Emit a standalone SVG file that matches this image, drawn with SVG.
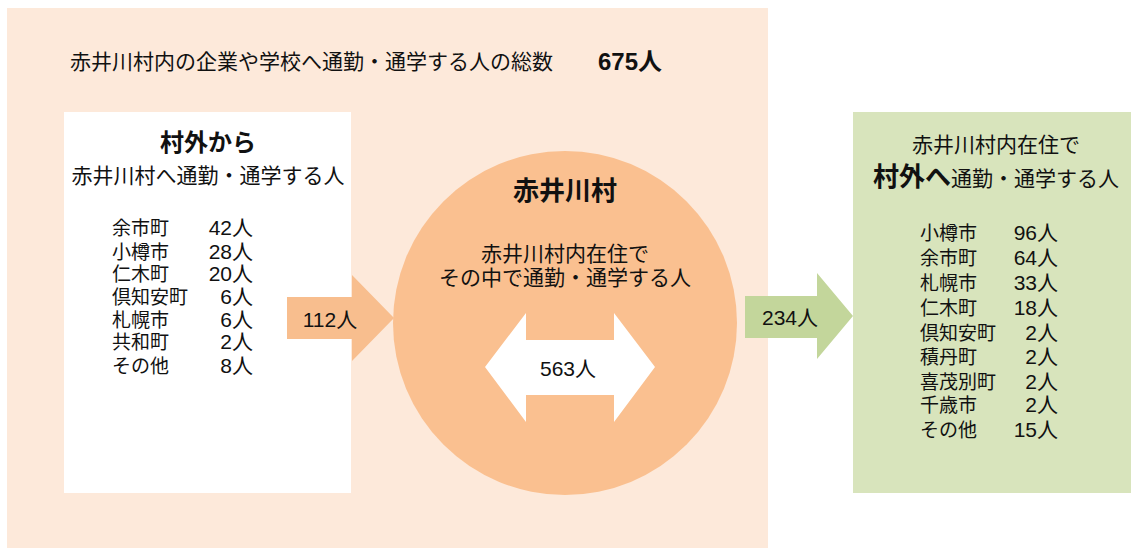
<svg xmlns="http://www.w3.org/2000/svg" width="1131" height="549" viewBox="0 0 1131 549">
<style>
text{font-family:"Liberation Sans","Noto Sans CJK JP",sans-serif;fill:#111}
.t21{font-size:21px}
.l{font-size:19px}
.r{text-anchor:end;font-size:21px}
.c{text-anchor:middle}
.b{font-weight:bold}
</style>
<rect width="1131" height="549" fill="#fff"/>
<g id="area">
<rect x="7" y="8" width="761" height="540" fill="#FDE9DA"/>
<text x="70" y="69" class="t21">赤井川村内の企業や学校へ通勤・通学する人の総数</text>
<text x="598" y="70" class="b" style="font-size:24px">675人</text>
</g>
<g id="from-outside">
<rect x="64" y="112" width="287" height="381" fill="#fff"/>
<text x="208" y="151" class="c b" style="font-size:24px">村外から</text>
<text x="208" y="183" class="c t21">赤井川村へ通勤・通学する人</text>
<g class="l">
<text x="112" y="235">余市町</text><text x="253" y="235" class="r">42人</text>
<text x="112" y="259">小樽市</text><text x="253" y="259" class="r">28人</text>
<text x="112" y="281">仁木町</text><text x="253" y="281" class="r">20人</text>
<text x="112" y="304">倶知安町</text><text x="253" y="304" class="r">6人</text>
<text x="112" y="327">札幌市</text><text x="253" y="327" class="r">6人</text>
<text x="112" y="349">共和町</text><text x="253" y="349" class="r">2人</text>
<text x="112" y="373">その他</text><text x="253" y="373" class="r">8人</text>
</g>
</g>
<g id="village">
<circle cx="565" cy="323" r="172" fill="#FAC090"/>
<text x="565" y="200" class="c b" style="font-size:26px">赤井川村</text>
<text x="565" y="261" class="c t21">赤井川村内在住で</text>
<text x="565" y="285" class="c t21">その中で通勤・通学する人</text>
<polygon points="485,367 526,313 526,340 614,340 614,313 655,367 614,422 614,395 526,395 526,422" fill="#fff"/>
<text x="568" y="376" class="c t21">563人</text>
</g>
<g id="to-outside">
<rect x="853" y="112" width="278" height="381" fill="#D8E4BC"/>
<text x="996" y="152" class="c t21">赤井川村内在住で</text>
<text x="873" y="186"><tspan class="b" style="font-size:26px">村外へ</tspan><tspan class="t21">通勤・通学する人</tspan></text>
<g class="l">
<text x="920" y="240">小樽市</text><text x="1058" y="240" class="r">96人</text>
<text x="920" y="265">余市町</text><text x="1058" y="265" class="r">64人</text>
<text x="920" y="290">札幌市</text><text x="1058" y="290" class="r">33人</text>
<text x="920" y="315">仁木町</text><text x="1058" y="315" class="r">18人</text>
<text x="920" y="340">倶知安町</text><text x="1058" y="340" class="r">2人</text>
<text x="920" y="364">積丹町</text><text x="1058" y="364" class="r">2人</text>
<text x="920" y="389">喜茂別町</text><text x="1058" y="389" class="r">2人</text>
<text x="920" y="412">千歳市</text><text x="1058" y="412" class="r">2人</text>
<text x="920" y="437">その他</text><text x="1058" y="437" class="r">15人</text>
</g>
</g>
<g id="connectors">
<polygon points="287,297 352,297 352,275 394,318 352,361 352,339 287,339" fill="#F8BE8E"/>
<text x="330" y="327" class="c t21">112人</text>
<polygon points="745,296 817,296 817,273 853,316 817,359 817,338 745,338" fill="#C3D69B"/>
<text x="790" y="325" class="c t21">234人</text>
</g>
</svg>
